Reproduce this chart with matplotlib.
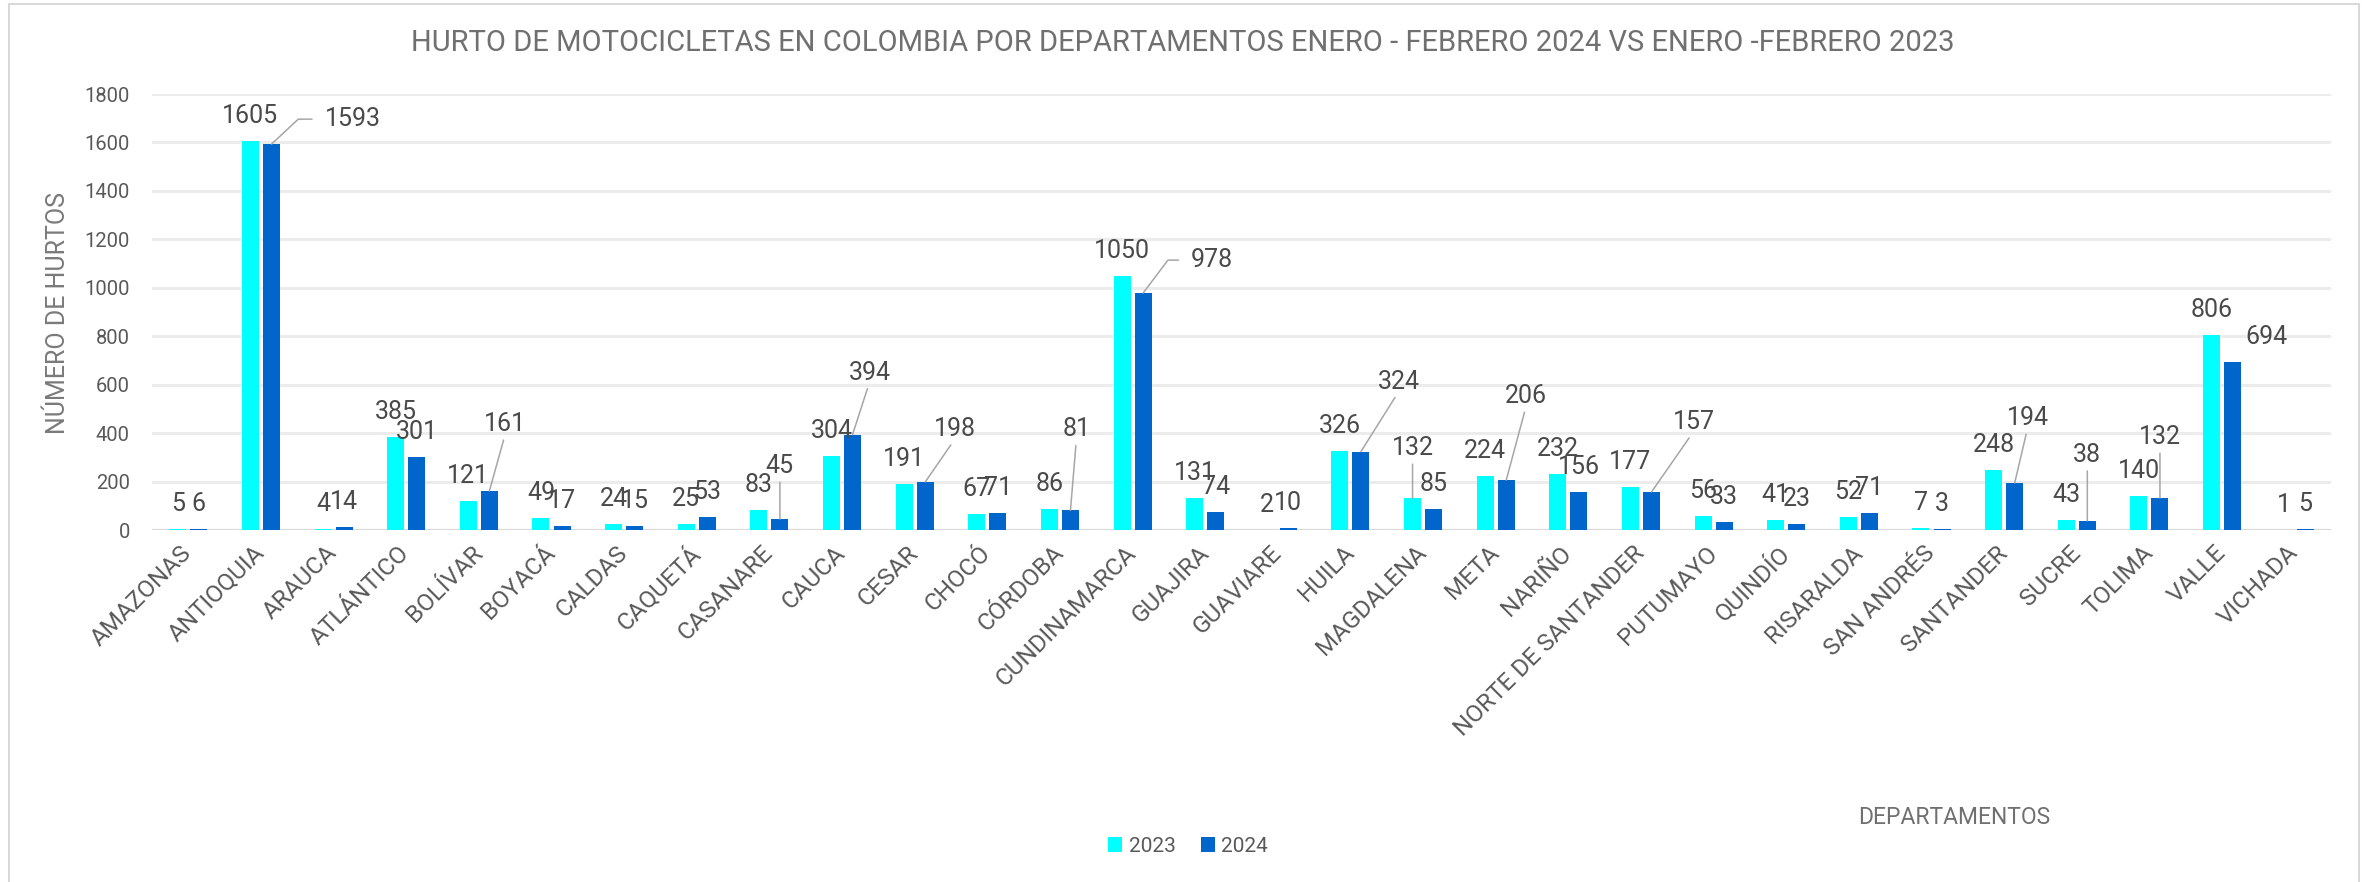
import matplotlib
matplotlib.use("Agg")
import matplotlib.pyplot as plt
from matplotlib.patches import Rectangle, Patch

plt.rcParams['font.family'] = ['Roboto', 'DejaVu Sans']

departamentos = ["AMAZONAS", "ANTIOQUIA", "ARAUCA", "ATLÁNTICO", "BOLÍVAR", "BOYACÁ",
                 "CALDAS", "CAQUETÁ", "CASANARE", "CAUCA", "CESAR", "CHOCÓ", "CÓRDOBA",
                 "CUNDINAMARCA", "GUAJIRA", "GUAVIARE", "HUILA", "MAGDALENA", "META",
                 "NARIÑO", "NORTE DE SANTANDER", "PUTUMAYO", "QUINDÍO", "RISARALDA",
                 "SAN ANDRÉS", "SANTANDER", "SUCRE", "TOLIMA", "VALLE", "VICHADA"]
hurtos_2023 = [5, 1605, 4, 385, 121, 49, 24, 25, 83, 304, 191, 67, 86, 1050, 131, 2,
               326, 132, 224, 232, 177, 56, 41, 52, 7, 248, 43, 140, 806, 1]
hurtos_2024 = [6, 1593, 14, 301, 161, 17, 15, 53, 45, 394, 198, 71, 81, 978, 74, 10,
               324, 85, 206, 156, 157, 33, 23, 71, 3, 194, 38, 132, 694, 5]
yticks = [0, 200, 400, 600, 800, 1000, 1200, 1400, 1600, 1800]

# label placement (pixel offsets from bar top) for labels moved off default
default_off = (0, 25)
off_2023 = {"MAGDALENA": (0, 50)}
off_2024 = {"ANTIOQUIA": (81, 25), "BOLÍVAR": (16, 67), "CASANARE": (0, 53),
            "CAUCA": (17, 62), "CESAR": (30, 53), "CÓRDOBA": (6, 81),
            "CUNDINAMARCA": (69, 33), "HUILA": (38, 70), "META": (20, 84),
            "NORTE DE SANTANDER": (42, 70), "SANTANDER": (13, 65), "SUCRE": (0, 66),
            "TOLIMA": (0, 61), "VALLE": (34, 25)}
elbow = {"ANTIOQUIA": 43, "CUNDINAMARCA": 53}
no_leader = {"VALLE"}

C23 = "#00FFFF"
C24 = "#0066CC"
TXT = "#595959"
LBL = "#4a4a4a"

W, H = 2362, 882
fig = plt.figure(figsize=(W / 100, H / 100), dpi=100)
ax = fig.add_axes([152 / W, 1 - 530 / H, (2331 - 152) / W, (530 - 94) / H])

x = list(range(len(departamentos)))
bw = 0.234
off = 0.145
ax.bar([i - off for i in x], hurtos_2023, width=bw, color=C23, zorder=3)
ax.bar([i + off for i in x], hurtos_2024, width=bw, color=C24, zorder=3)

ax.set_xlim(-0.5, len(departamentos) - 0.5)
ax.set_ylim(0, 1800)
ax.set_yticks(yticks)
ax.set_yticklabels([str(t) for t in yticks])
ax.grid(axis='y', color='#ececec', linewidth=2.2, zorder=0)
ax.set_axisbelow(True)
ax.axhline(0, color='#d9d9d9', linewidth=2.2, zorder=2)
for s in ax.spines.values():
    s.set_visible(False)
ax.tick_params(axis='y', length=0, pad=16, labelsize=14.5, labelcolor=TXT)
ax.tick_params(axis='x', length=0, pad=14, labelsize=17.5, labelcolor=TXT)
ax.set_xticks(x)
ax.set_xticklabels(departamentos, rotation=45, ha='right', va='center',
                   rotation_mode='anchor')


def label(xpos, val, name, offs):
    dx, dy = offs.get(name, default_off)
    kw = dict(xy=(xpos, val), xytext=(dx, dy), textcoords='offset pixels',
              ha='center', va='center', fontsize=18, color=LBL, zorder=5)
    if name in offs and name not in no_leader:
        if name in elbow:
            kw['arrowprops'] = dict(arrowstyle='-', color='#a6a6a6', lw=1.1,
                                    shrinkA=7, shrinkB=0, relpos=(0, 0.5),
                                    connectionstyle=f"angle,angleA=180,angleB={elbow[name]},rad=0")
        else:
            kw['arrowprops'] = dict(arrowstyle='-', color='#a6a6a6', lw=1.1,
                                    shrinkA=1, shrinkB=0, relpos=(0.5, 0.1))
    ax.annotate(str(val), **kw)


for i, name in enumerate(departamentos):
    label(i - off, hurtos_2023[i], name, off_2023)
    label(i + off, hurtos_2024[i], name, off_2024)

fig.text(1183 / W, 1 - 43 / H,
         "HURTO DE MOTOCICLETAS EN COLOMBIA POR DEPARTAMENTOS ENERO - FEBRERO 2024 VS ENERO -FEBRERO 2023",
         ha='center', va='center', fontsize=21, color="#707070")
fig.text(58 / W, 1 - 313 / H, "NÚMERO DE HURTOS", rotation=90, ha='center', va='center',
         fontsize=18, color="#7a7a7a")
fig.text(1954 / W, 1 - 817 / H, "DEPARTAMENTOS", ha='center', va='center',
         fontsize=16.5, color="#707070")

handles = [Patch(facecolor=C23, label="2023"), Patch(facecolor=C24, label="2024")]
fig.legend(handles=handles, loc='center', bbox_to_anchor=(1188 / W, 1 - 846 / H), ncol=2,
           frameon=False, fontsize=15, labelcolor="#595959", handlelength=0.7, handleheight=0.7,
           handletextpad=0.3, columnspacing=1.2)

fig.add_artist(Rectangle((9 / W, -0.01), (2359 - 9) / W, 1 - 4 / H + 0.01,
                         transform=fig.transFigure, fill=False, edgecolor='#d9d9d9', lw=1.5))

fig.savefig("out.png", dpi=100, facecolor='white')
